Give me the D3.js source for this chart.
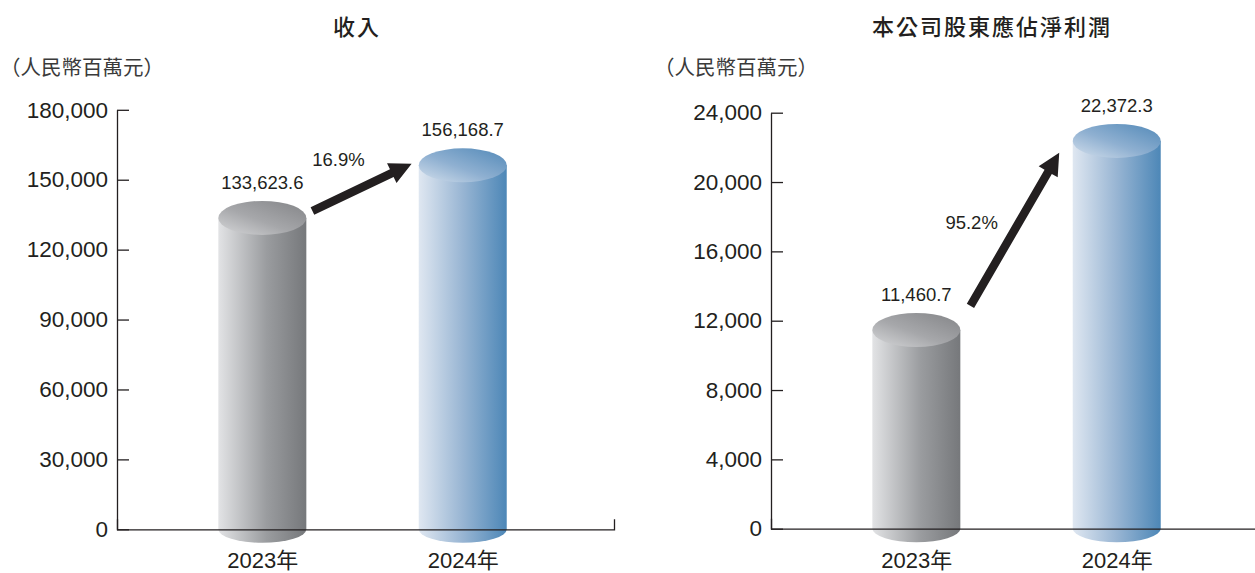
<!DOCTYPE html>
<html>
<head>
<meta charset="utf-8">
<script src="https://cdn.jsdelivr.net/npm/d3@7"></script>
<style>
  body { margin: 0; background: #fff; }
  svg { display: block; }
  .num { font-family: "Liberation Sans", Arial, sans-serif; fill: #231f20; }
  .cjk { font-family: "Liberation Sans", "Noto Sans CJK TC", sans-serif; fill: #231f20; }
</style>
</head>
<body>
<div id="chart"></div>
<script>
// data
var years = ["2023年", "2024年"];
var titles = ["收入", "本公司股東應佔淨利潤"];
var unitLabel = "（人民幣百萬元）";
var revenue = [133623.6, 156168.7];
var profit = [11460.7, 22372.3];
var revenueTicks = [0, 30000, 60000, 90000, 120000, 150000, 180000];
var profitTicks = [0, 4000, 8000, 12000, 16000, 20000, 24000];
var growth = ["16.9%", "95.2%"];
// arrow ends: [fraction between the two bars, value]
var revenueArrow = [[0.25, 136600], [0.745, 156900]];
var profitArrow = [[0.27, 12850], [0.713, 21690]];
var revenueGrowthPos = [0.38, 156100];
var profitGrowthPos = [0.276, 17290];

var w = 1255;
var h = 573;
var bw = 88; // cylinder width
var rTop = 17;
var rBot = 13.5;

var svg = d3.select("#chart").append("svg").attr("width", w).attr("height", h);

var defs = svg.append("defs");
function grad(id, stops, x1, y1, x2, y2) {
  var g = defs.append("linearGradient").attr("id", id)
    .attr("x1", x1).attr("y1", y1).attr("x2", x2).attr("y2", y2);
  stops.forEach(function (s) {
    g.append("stop").attr("offset", s[0]).attr("stop-color", s[1]);
  });
}
grad("graySide", [[0, "#e2e3e5"], [0.55, "#9a9c9f"], [1, "#76787b"]], 0, 0, 1, 0);
grad("grayTop", [[0, "#d6d7d9"], [0.45, "#a6a7aa"], [1, "#838487"]], 0, 1, 1, 0);
grad("blueSide", [[0, "#dfe7f1"], [0.5, "#98b5d3"], [1, "#4d87b7"]], 0, 0, 1, 0);
grad("blueTop", [[0, "#d3dfec"], [0.45, "#8fb0d1"], [1, "#5289b8"]], 0, 1, 1, 0);
var fills = [["url(#graySide)", "url(#grayTop)"], ["url(#blueSide)", "url(#blueTop)"]];

var charts = [
  { dx: 0, title: titles[0], titleX: 357, values: revenue, ticks: revenueTicks,
    yRange: [529.3, 109.8], arrow: revenueArrow, pct: growth[0], pctPos: revenueGrowthPos },
  { dx: 654, title: titles[1], titleX: 338, values: profit, ticks: profitTicks,
    yRange: [528.7, 112.7], arrow: profitArrow, pct: growth[1], pctPos: profitGrowthPos }
];

charts.forEach(function (c) {
  var g = svg.append("g").attr("transform", "translate(" + c.dx + ",0)");

  var x = d3.scalePoint().domain(years).range([117, 614]).padding(0.74).align(0.49);
  var y = d3.scaleLinear().domain([0, c.ticks[c.ticks.length - 1]]).range(c.yRange);
  var fx = function (f) { return x(years[0]) + f * (x(years[1]) - x(years[0])); };

  g.append("text").attr("class", "cjk")
    .attr("x", c.titleX).attr("y", 35)
    .attr("text-anchor", "middle")
    .style("font-family", "'Noto Sans CJK TC', sans-serif")
    .style("font-weight", "500").style("font-size", "22px").style("letter-spacing", "2px")
    .text(c.title);

  g.append("text")
    .attr("x", 0).attr("y", 75)
    .style("font-family", "'Noto Sans CJK TC', sans-serif")
    .style("font-size", "20.5px")
    .style("fill", "#3a3a3a")
    .text(unitLabel);

  // cylinders
  var bars = g.selectAll(".bar").data(c.values).enter().append("g").attr("class", "bar");
  bars.append("path")
    .attr("d", function (d, i) {
      var x0 = x(years[i]) - bw / 2, x1 = x(years[i]) + bw / 2;
      return "M" + x0 + "," + y(d) + "L" + x0 + "," + y(0) +
        "A" + bw / 2 + "," + rBot + " 0 0 0 " + x1 + "," + y(0) +
        "L" + x1 + "," + y(d) + "Z";
    })
    .attr("fill", function (d, i) { return fills[i][0]; });
  bars.append("ellipse")
    .attr("cx", function (d, i) { return x(years[i]); })
    .attr("cy", function (d) { return y(d); })
    .attr("rx", bw / 2).attr("ry", rTop)
    .attr("fill", function (d, i) { return fills[i][1]; });
  bars.append("text").attr("class", "num")
    .attr("x", function (d, i) { return x(years[i]); })
    .attr("y", function (d) { return y(d) - rTop - 12; })
    .attr("text-anchor", "middle")
    .style("font-size", "18.5px")
    .text(function (d) { return d3.format(",.1f")(d); });

  // y axis
  var yAxis = d3.axisLeft(y).tickValues(c.ticks).tickFormat(d3.format(","))
    .tickSizeInner(-12).tickSizeOuter(0).tickPadding(9);
  var ya = g.append("g").attr("transform", "translate(117,0)").call(yAxis);
  ya.selectAll("text").attr("class", "num").style("font-size", "22.5px");
  ya.selectAll("line,path").attr("stroke", "#231f20").attr("stroke-width", 1.3);

  // x axis
  var xAxis = d3.axisBottom(x).tickSizeInner(0).tickSizeOuter(-10).tickPadding(0);
  var xa = g.append("g").attr("transform", "translate(0," + y(0) + ")").call(xAxis);
  xa.selectAll("path").attr("stroke", "#231f20").attr("stroke-width", 1.3);
  xa.selectAll("text").attr("class", "cjk").attr("dy", null).attr("y", 39)
    .style("font-size", "22px");

  // arrow
  var ax0 = fx(c.arrow[0][0]), ay0 = y(c.arrow[0][1]);
  var ax1 = fx(c.arrow[1][0]), ay1 = y(c.arrow[1][1]);
  var len = Math.hypot(ax1 - ax0, ay1 - ay0);
  var ux = (ax1 - ax0) / len, uy = (ay1 - ay0) / len, nx = -uy, ny = ux;
  var sw = 4.2, hw = 11, hl = 22;
  var bx = ax1 - ux * hl, by = ay1 - uy * hl;
  var pts = [
    [ax0 + nx * sw, ay0 + ny * sw], [bx + nx * sw, by + ny * sw], [bx + nx * hw, by + ny * hw],
    [ax1, ay1],
    [bx - nx * hw, by - ny * hw], [bx - nx * sw, by - ny * sw], [ax0 - nx * sw, ay0 - ny * sw]
  ];
  g.append("path").attr("d", d3.line()(pts) + "Z").attr("fill", "#231f20");

  g.append("text").attr("class", "num")
    .attr("x", fx(c.pctPos[0])).attr("y", y(c.pctPos[1]))
    .attr("text-anchor", "middle").style("font-size", "18.5px")
    .text(c.pct);
});
</script>
</body>
</html>
